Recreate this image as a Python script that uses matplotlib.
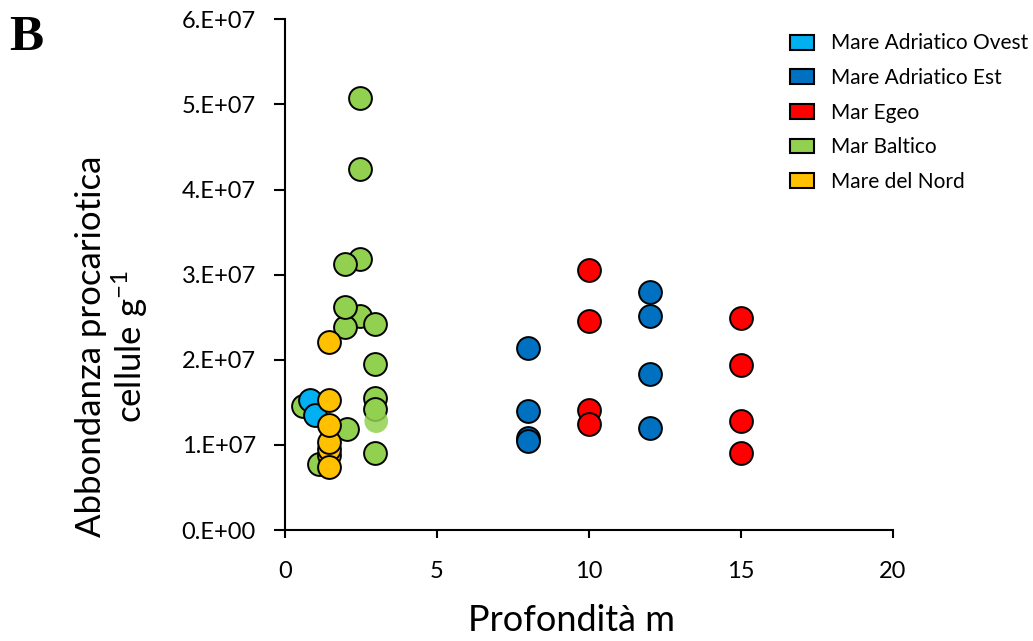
import matplotlib
matplotlib.use("Agg")
from matplotlib import pyplot as plt
from matplotlib.patches import Patch
import numpy as np

plt.rcParams['font.family'] = ['Lato', 'DejaVu Sans']
plt.rcParams['mathtext.default'] = 'regular'

# depth (m) and prokaryotic abundance (cells g-1) per sampling area
baltico_x = [2.47, 2.47, 2.48, 1.97, 2.48, 1.97, 1.97, 2.97, 2.97, 2.97, 2.97, 2.97, 2.05, 0.6, 1.13]
baltico_y = [5.07e7, 4.24e7, 3.18e7, 3.13e7, 2.52e7, 2.39e7, 2.62e7, 2.42e7, 1.95e7, 1.55e7, 1.42e7, 0.90e7, 1.19e7, 1.46e7, 0.78e7]
baltico_faded_x = [3.0]
baltico_faded_y = [1.28e7]
ovest_x = [0.82, 0.97]
ovest_y = [1.53e7, 1.35e7]
nord_x = [1.46, 1.46, 1.46, 1.46, 1.46, 1.46, 1.46]
nord_y = [2.21e7, 1.53e7, 0.88e7, 0.95e7, 1.04e7, 1.24e7, 0.74e7]
est_x = [8, 8, 8, 8, 12, 12, 12, 12]
est_y = [2.14e7, 1.40e7, 1.08e7, 1.05e7, 2.80e7, 2.52e7, 1.83e7, 1.20e7]
egeo_x = [10, 10, 10, 10, 15, 15, 15, 15]
egeo_y = [3.05e7, 2.46e7, 1.41e7, 1.25e7, 2.49e7, 1.94e7, 1.28e7, 0.90e7]

legend_labels = ['Mare Adriatico Ovest', 'Mare Adriatico Est', 'Mar Egeo', 'Mar Baltico', 'Mare del Nord']
legend_colors = ['#00B0F0', '#0070C0', '#FF0000', '#92D050', '#FFC000']

x_ticks = [0, 5, 10, 15, 20]
y_ticks = [0, 1e7, 2e7, 3e7, 4e7, 5e7, 6e7]
y_ticklabels = ['0.E+00', '1.E+07', '2.E+07', '3.E+07', '4.E+07', '5.E+07', '6.E+07']

fig = plt.figure(figsize=(10.33, 6.41), dpi=100)
ax = fig.add_axes([0.276, 0.173, 0.588, 0.797])

kw = dict(s=270, edgecolors='black', linewidths=1.4, zorder=3)
ax.scatter(egeo_x, egeo_y, c=legend_colors[2], **kw)
ax.scatter(est_x, est_y, c=legend_colors[1], **kw)
ax.scatter(baltico_x, baltico_y, c=legend_colors[3], **kw)
ax.scatter(baltico_faded_x, baltico_faded_y, c=legend_colors[3], s=290,
           edgecolors='none', alpha=0.85, zorder=3)
ax.scatter(ovest_x, ovest_y, c=legend_colors[0], **kw)
ax.scatter(nord_x, nord_y, c=legend_colors[4], **kw)

ax.set_xlim(0, 20)
ax.set_ylim(0, 6e7)
ax.set_xticks(x_ticks)
ax.set_xticklabels([str(t) for t in x_ticks])
ax.set_yticks(y_ticks)
ax.set_yticklabels(y_ticklabels)
ax.tick_params(labelsize=17, width=1.5)
ax.tick_params(axis='y', length=8, pad=13)
ax.tick_params(axis='x', length=6, pad=16)
for side in ['top', 'right']:
    ax.spines[side].set_visible(False)
for side in ['left', 'bottom']:
    ax.spines[side].set_linewidth(1.5)

ax.set_xlabel('Profondità m', fontsize=26)
ax.xaxis.set_label_coords(0.471, -0.145)
ax.set_ylabel('Abbondanza procariotica\ncellule g$^{-1}$', fontsize=25, linespacing=1.1)
ax.yaxis.set_label_coords(-0.222, 0.36)

handles = [Patch(facecolor=c, edgecolor='black', linewidth=1.5) for c in legend_colors]
fig.legend(handles, legend_labels, loc='upper left', bbox_to_anchor=(0.747, 0.977),
           frameon=False, fontsize=15, handlelength=1.15, handleheight=0.72,
           labelspacing=0.7, handletextpad=0.8)

fig.text(0.009, 0.977, 'B', fontsize=37, fontweight='bold', family='Liberation Serif',
         va='top', ha='left')

fig.savefig('out.png', dpi=100)
